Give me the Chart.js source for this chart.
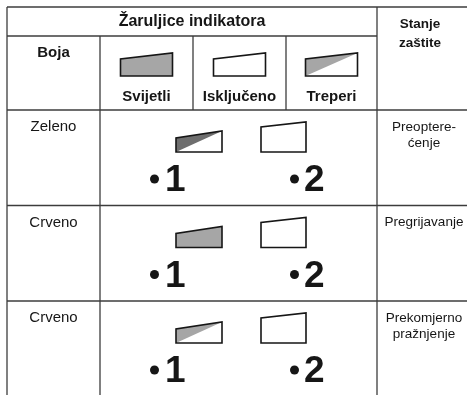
<!DOCTYPE html>
<html>
<head>
<meta charset="utf-8">
<script src="https://cdn.jsdelivr.net/npm/chart.js@4.4.1/dist/chart.umd.min.js"></script>
<style>
  html, body { margin: 0; padding: 0; background: #fff; }
  canvas { display: block; }
</style>
</head>
<body>
<canvas id="lamps" width="467" height="395"></canvas>
<script>
// table content
const titleText = 'Žaruljice indikatora';
const stateHeader = ['Stanje', 'zaštite'];
const colorHeader = 'Boja';
const lampStates = ['svijetli', 'iskljuceno', 'treperi'];
const lampLabels = ['Svijetli', 'Isključeno', 'Treperi'];
const rowColors = ['Zeleno', 'Crveno', 'Crveno'];
const lamp1 = ['treperi', 'svijetli', 'treperi'];
const lamp2 = ['iskljuceno', 'iskljuceno', 'iskljuceno'];
const rowStates = [['Preoptere-', 'ćenje'], ['Pregrijavanje'], ['Prekomjerno', 'pražnjenje']];
const lampNumbers = ['1', '2'];

// layout (page units, mapped through the chart scales)
const COLS = [7, 100, 193, 286, 377, 467];
const ROWS = [7, 36, 110, 205.5, 301, 395];
const LINE = '#3c3c3c';
const INK = '#161616';
const GRAY = '#a6a6a6';
const DARK_BLINK = '#6e6e6e';
const FONT = '"Liberation Sans", Arial, sans-serif';

const bodyTops = ROWS.slice(2, 5);
const bulletPoints = [];
bodyTops.forEach(top => {
  bulletPoints.push({ x: 154.5, y: top + 69 });
  bulletPoints.push({ x: 294.5, y: top + 69 });
});

function drawLamp(ctx, sx, sy, cx, bottom, w, hL, hR, state, shade) {
  const l = sx(cx - w / 2), r = sx(cx + w / 2);
  const b = sy(bottom), tl = sy(bottom - hL), tr = sy(bottom - hR);
  if (state === 'svijetli') {
    ctx.beginPath();
    ctx.moveTo(l, b); ctx.lineTo(l, tl); ctx.lineTo(r, tr); ctx.lineTo(r, b); ctx.closePath();
    ctx.fillStyle = GRAY;
    ctx.fill();
  } else if (state === 'treperi') {
    ctx.beginPath();
    ctx.moveTo(l, b); ctx.lineTo(l, tl); ctx.lineTo(r, tr); ctx.closePath();
    ctx.fillStyle = shade || GRAY;
    ctx.fill();
  }
  ctx.beginPath();
  ctx.moveTo(l, b); ctx.lineTo(l, tl); ctx.lineTo(r, tr); ctx.lineTo(r, b); ctx.closePath();
  ctx.strokeStyle = INK;
  ctx.lineWidth = 1.6;
  ctx.stroke();
}

const tablePlugin = {
  id: 'tablePlugin',
  beforeDatasetsDraw(chart) {
    const ctx = chart.ctx;
    const sx = v => chart.scales.x.getPixelForValue(v);
    const sy = v => chart.scales.y.getPixelForValue(v);
    ctx.save();

    // grid
    ctx.strokeStyle = LINE;
    ctx.lineWidth = 1.3;
    const seg = (x1, y1, x2, y2) => {
      ctx.beginPath(); ctx.moveTo(sx(x1), sy(y1)); ctx.lineTo(sx(x2), sy(y2)); ctx.stroke();
    };
    seg(COLS[0], ROWS[0], COLS[5], ROWS[0]);
    seg(COLS[0], ROWS[1], COLS[4], ROWS[1]);
    for (let i = 2; i < 5; i++) seg(COLS[0], ROWS[i], COLS[5], ROWS[i]);
    seg(COLS[0], ROWS[0], COLS[0], ROWS[5]);
    seg(COLS[1], ROWS[1], COLS[1], ROWS[5]);
    seg(COLS[2], ROWS[1], COLS[2], ROWS[2]);
    seg(COLS[3], ROWS[1], COLS[3], ROWS[2]);
    seg(COLS[4], ROWS[0], COLS[4], ROWS[5]);

    // header text
    ctx.fillStyle = INK;
    ctx.textAlign = 'center';
    ctx.textBaseline = 'middle';
    ctx.font = 'bold 16px ' + FONT;
    ctx.fillText(titleText, sx((COLS[0] + COLS[4]) / 2), sy(22));
    ctx.font = 'bold 13.5px ' + FONT;
    stateHeader.forEach((t, i) => ctx.fillText(t, sx(420), sy(24 + i * 19)));
    ctx.font = 'bold 15px ' + FONT;
    ctx.fillText(colorHeader, sx((COLS[0] + COLS[1]) / 2), sy(53));

    // legend lamps
    lampStates.forEach((st, i) => {
      const cx = (COLS[i + 1] + COLS[i + 2]) / 2;
      drawLamp(ctx, sx, sy, cx, 76, 52, 17, 23, st, null);
      ctx.fillStyle = INK;
      ctx.font = 'bold 15px ' + FONT;
      ctx.fillText(lampLabels[i], sx(cx), sy(97));
    });

    // body rows
    bodyTops.forEach((top, r) => {
      ctx.fillStyle = INK;
      ctx.textAlign = 'center';
      ctx.textBaseline = 'middle';
      ctx.font = '15px ' + FONT;
      ctx.fillText(rowColors[r], sx((COLS[0] + COLS[1]) / 2), sy(top + 17));
      ctx.font = '13.5px ' + FONT;
      rowStates[r].forEach((t, k) => ctx.fillText(t, sx(424), sy(top + 17 + k * 16.5)));

      drawLamp(ctx, sx, sy, 199, top + 42, 46, 14, 21, lamp1[r], r === 0 ? DARK_BLINK : GRAY);
      drawLamp(ctx, sx, sy, 283.5, top + 42, 45, 25, 30, lamp2[r], GRAY);

      ctx.fillStyle = INK;
      ctx.textAlign = 'left';
      ctx.textBaseline = 'alphabetic';
      ctx.font = 'bold 37px ' + FONT;
      ctx.fillText(lampNumbers[0], sx(165), sy(top + 81));
      ctx.fillText(lampNumbers[1], sx(304), sy(top + 81));
    });
    ctx.restore();
  }
};

new Chart(document.getElementById('lamps'), {
  type: 'scatter',
  data: {
    datasets: [{
      data: bulletPoints,
      pointRadius: 4.5,
      pointHoverRadius: 4.5,
      backgroundColor: INK,
      borderColor: INK,
      borderWidth: 0,
    }],
  },
  options: {
    responsive: false,
    animation: false,
    events: [],
    layout: { padding: 0, autoPadding: false },
    plugins: { legend: { display: false }, tooltip: { enabled: false } },
    scales: {
      x: { type: 'linear', min: 0, max: 467, display: false },
      y: { type: 'linear', min: 0, max: 395, reverse: true, display: false },
    },
  },
  plugins: [tablePlugin],
});
</script>
</body>
</html>
